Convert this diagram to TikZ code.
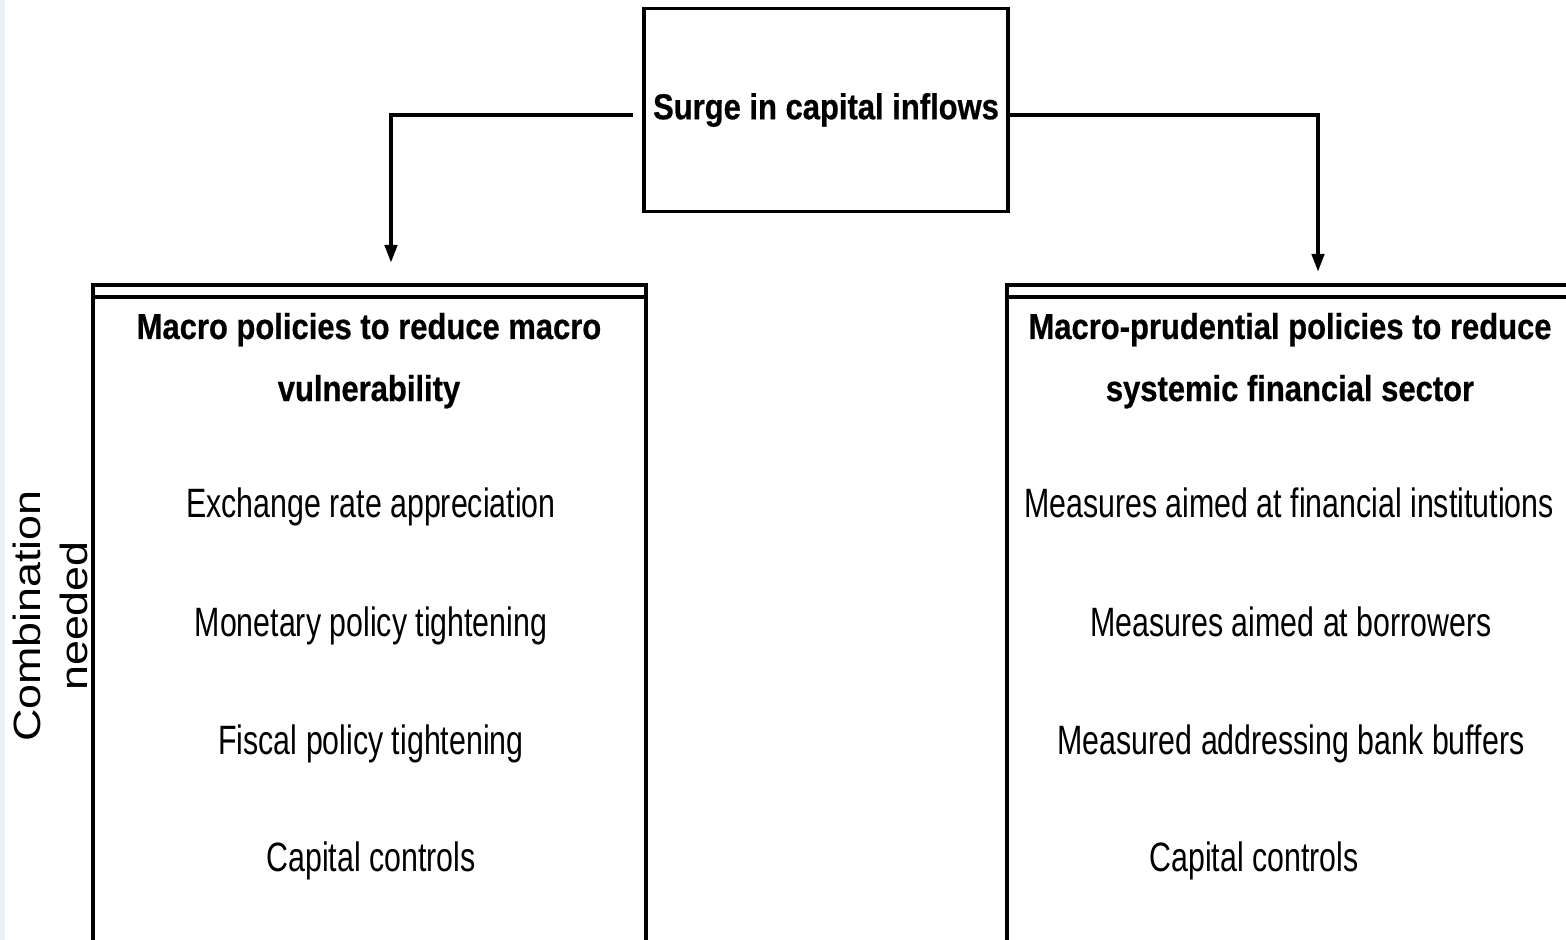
\documentclass[tikz,border=0pt]{standalone}
\usepackage{fontspec}
\setmainfont{Liberation Sans}
\newfontfamily\bodyfont[FakeStretch=0.74]{Liberation Sans}
\newfontfamily\headfont[FakeStretch=0.86,FakeBold=0.6]{Liberation Sans Bold}
\newfontfamily\sidefont[FakeStretch=1.18]{Liberation Sans}
\usetikzlibrary{arrows.meta}
\definecolor{stripblue}{HTML}{EAF1FB}
\begin{document}
\begin{tikzpicture}[x=0.5pt,y=-0.5pt,
  frame/.style={line width=1.6pt},
  conn/.style={line width=2.1pt,-{Triangle[length=9pt,width=6pt]}},
  head/.style={anchor=base,inner sep=0pt,font=\headfont\fontsize{18}{21}\selectfont},
  item/.style={anchor=base,inner sep=0pt,font=\bodyfont\fontsize{20.5}{24}\selectfont},
]
\useasboundingbox (0,0) rectangle (1566,940);
% thin tinted strip along the left edge
\fill[stripblue] (0,0) rectangle (5,940);

% source box
\node[draw,frame,minimum width=182pt,minimum height=101.5pt,inner sep=0pt,
      font=\headfont\fontsize{18}{21}\selectfont] (top) at (826,110)
      {Surge in capital inflows};

% left policy panel (runs off the bottom edge)
\draw[frame] (93,950) -- (93,285) -- (646,285) -- (646,950);
\draw[frame] (93,297) -- (646,297);
% right policy panel (runs off the right and bottom edges)
\draw[frame] (1007,950) -- (1007,285) -- (1580,285);
\draw[frame] (1007,297) -- (1580,297);

% connectors
\coordinate (lstart) at (633,115);
\coordinate (ltip) at (391,263);
\coordinate (rstart) at (1008,115);
\coordinate (rtip) at (1318,272);
\draw[conn] (lstart) -| (ltip);
\draw[conn] (rstart) -| (rtip);

% left panel text
\node[head] (lh1) at (369,339) {Macro policies to reduce macro};
\node[head] (lh2) at (369,401) {vulnerability};
\node[item] (l1) at (371,517) {Exchange rate appreciation};
\node[item] (l2) at (371,636) {Monetary policy tightening};
\node[item] (l3) at (371,754) {Fiscal policy tightening};
\node[item] (l4) at (371,871) {Capital controls};

% right panel text
\node[head] (rh1) at (1290,339) {Macro-prudential policies to reduce};
\node[head] (rh2) at (1290,401) {systemic financial sector};
\node[item] (r1) at (1289,517) {Measures aimed at financial institutions};
\node[item] (r2) at (1291,636) {Measures aimed at borrowers};
\node[item] (r3) at (1291,754) {Measured addressing bank buffers};
\node[item] (r4) at (1254,871) {Capital controls};

% side label
\node[rotate=90,align=center,inner sep=0pt,
      font=\sidefont\fontsize{19}{23.5}\selectfont] (side) at (50,616)
      {Combination\\needed};
\end{tikzpicture}
\end{document}
